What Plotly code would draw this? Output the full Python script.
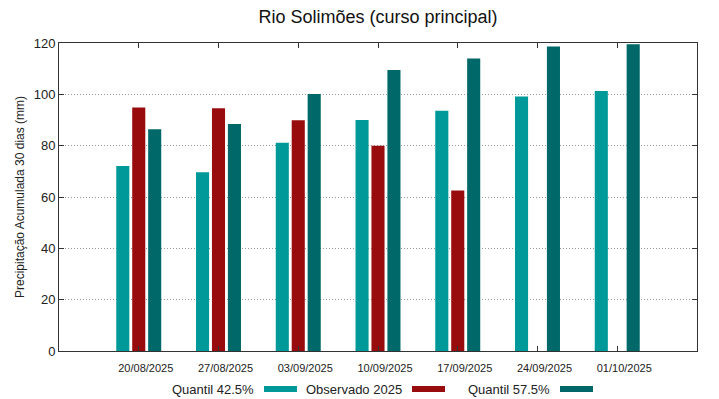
import plotly.graph_objects as go

# ---- data ----
dates = ["20/08/2025", "27/08/2025", "03/09/2025", "10/09/2025",
         "17/09/2025", "24/09/2025", "01/10/2025"]
q425 = [72.1, 69.6, 81.1, 90.0, 93.6, 99.2, 101.3]
obs2025 = [94.9, 94.6, 89.9, 80.0, 62.5, None, None]
q575 = [86.4, 88.4, 100.1, 109.5, 114.0, 118.6, 119.5]

series_names = ["Quantil 42.5%", "Observado 2025", "Quantil 57.5%"]
series_values = [q425, obs2025, q575]
series_colors = ["#009999", "#990c0e", "#006868"]

title_text = "Rio Solimões (curso principal)"
y_title = "Precipitação Acumulada 30 dias (mm)"
y_ticks = [0, 20, 40, 60, 80, 100, 120]

FONT = "Liberation Sans, Arial, sans-serif"

fig = go.Figure()
xs = list(range(len(dates)))
for name, vals, col in zip(series_names, series_values, series_colors):
    fig.add_trace(go.Bar(x=xs, y=vals, name=name, marker_color=col,
                         marker_line_width=0, showlegend=False))

W, H = 719, 399
ml, mr, mt, mb = 59, 22, 43, 48
pw = W - ml - mr
ph = H - mt - mb

fig.update_layout(
    width=W, height=H,
    margin=dict(l=ml, r=mr, t=mt, b=mb, autoexpand=False),
    paper_bgcolor="white", plot_bgcolor="white",
    barmode="group", bargap=0.4, bargroupgap=0.18,
    font=dict(family=FONT, color="#222222"),
    title=dict(text=title_text, x=(ml + pw / 2) / W, xanchor="center",
               y=1 - 16.5 / H, yanchor="middle",
               font=dict(size=18, color="#111111")),
)

fig.update_xaxes(
    range=[-1, 7], tickmode="array", tickvals=xs, ticktext=dates,
    ticks="inside", ticklen=5, tickcolor="#333333",
    showline=True, linecolor="#333333", linewidth=1, mirror="allticks",
    showgrid=False, zeroline=False,
    tickfont=dict(size=11, color="#222222"),
    ticklabelshift=7, ticklabelstandoff=7,
)
fig.update_yaxes(
    range=[0, 120], tickmode="array", tickvals=y_ticks,
    ticks="inside", ticklen=5, tickcolor="#333333",
    showline=True, linecolor="#333333", linewidth=1, mirror="allticks",
    showgrid=True, gridcolor="#999999", griddash="1px,2px", gridwidth=1,
    zeroline=False,
    tickfont=dict(size=13, color="#222222"),
    title=dict(text=y_title, font=dict(size=12, color="#222222"), standoff=6),
)

# custom gnuplot-style legend (text then swatch) below the plot
text_right_px = [256, 404, 552]
sw_w, sw_h, gap = 33, 6, 8
leg_y_px = 389
for name, col, tr in zip(series_names, series_colors, text_right_px):
    xr = (tr - ml) / pw
    yc = (mt + ph - leg_y_px) / ph
    fig.add_annotation(text=name, xref="paper", yref="paper", x=xr, y=yc,
                       xanchor="right", yanchor="middle", showarrow=False,
                       font=dict(size=13, color="#222222"))
    x0 = (tr + gap - ml) / pw
    x1 = (tr + gap + sw_w - ml) / pw
    y0 = (mt + ph - leg_y_px - sw_h / 2) / ph
    y1 = (mt + ph - leg_y_px + sw_h / 2) / ph
    fig.add_shape(type="rect", xref="paper", yref="paper",
                  x0=x0, x1=x1, y0=y0, y1=y1,
                  fillcolor=col, line_width=0)

fig.write_html("out.html",
               config={"displayModeBar": False},
               post_script="document.body.style.margin='0';"
                           "document.body.style.padding='0';")
